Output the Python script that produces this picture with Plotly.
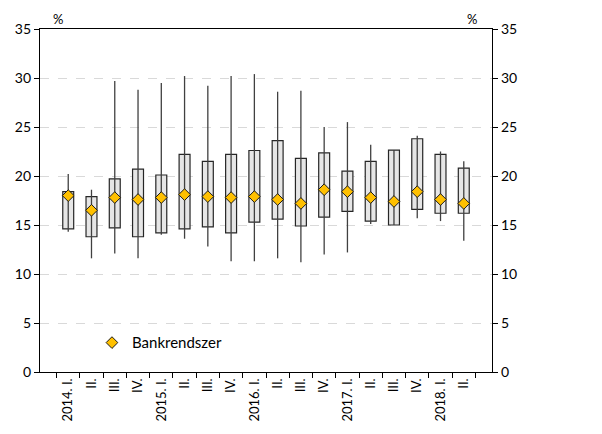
import plotly.graph_objects as go

# Quarterly distribution (%), 2014 I - 2018 II
quarters = ["2014. I.", "II.", "III.", "IV.", "2015. I.", "II.", "III.", "IV.",
            "2016. I.", "II.", "III.", "IV.", "2017. I.", "II.", "III.", "IV.",
            "2018. I.", "II."]
cats = [f"{i}|{q}" for i, q in enumerate(quarters)]

whisker_min = [14.3, 11.6, 12.1, 11.6, 14.0, 13.6, 12.8, 11.3, 11.3,
               11.6, 11.2, 12.0, 12.2, 15.1, 15.0, 15.7, 15.4, 13.4]
whisker_max = [20.2, 18.6, 29.7, 28.8, 29.5, 30.2, 29.2, 30.2, 30.4,
               28.6, 28.7, 25.0, 25.5, 23.2, 22.65, 24.1, 22.5, 21.5]
box_low = [14.6, 13.8, 14.7, 13.8, 14.2, 14.6, 14.8, 14.2, 15.3,
           15.6, 14.9, 15.8, 16.4, 15.4, 15.0, 16.6, 16.2, 16.2]
box_high = [18.4, 17.9, 19.7, 20.7, 20.1, 22.2, 21.5, 22.2, 22.6,
            23.6, 21.8, 22.35, 20.5, 21.5, 22.65, 23.8, 22.2, 20.8]
bankrendszer = [18.0, 16.5, 17.8, 17.6, 17.8, 18.1, 17.9, 17.8, 17.9,
                17.6, 17.2, 18.6, 18.4, 17.8, 17.4, 18.4, 17.6, 17.2]

FONT = "Lato"

# whiskers as one broken line
wx, wy = [], []
for c, lo, hi in zip(cats, whisker_min, whisker_max):
    wx += [c, c, None]
    wy += [lo, hi, None]

fig = go.Figure()
fig.add_trace(go.Scatter(x=wx, y=wy, mode="lines", line=dict(color="#404040", width=1.3),
                         showlegend=False, hoverinfo="skip"))
fig.add_trace(go.Bar(x=cats, y=[h - l for h, l in zip(box_high, box_low)], base=box_low,
                     width=0.47, marker=dict(color="#e6e6e6", line=dict(color="#262626", width=1.2)),
                     showlegend=False))
fig.add_trace(go.Scatter(x=cats, y=bankrendszer, mode="markers", name="Bankrendszer",
                         marker=dict(symbol="diamond", size=9, color="#ffc000",
                                     line=dict(color="#1a1a1a", width=1))))
# invisible trace to carry the right axis
fig.add_trace(go.Scatter(x=[cats[0]], y=[0], yaxis="y2", mode="markers",
                         marker=dict(opacity=0), showlegend=False, hoverinfo="skip"))

# page body adds ~8px offset, so the figure is a bit smaller than the window
fig.update_layout(
    width=594, height=426,
    margin=dict(l=32, r=110, t=21, b=62),
    plot_bgcolor="white", paper_bgcolor="white",
    font=dict(family=FONT, size=14, color="#000"),
    barmode="overlay",
    xaxis=dict(type="category", categoryorder="array", categoryarray=cats,
               tickvals=cats, ticktext=quarters, tickangle=-90,
               tickson="boundaries", ticks="outside", ticklen=5, tickcolor="#000",
               showline=True, linecolor="#000", linewidth=1.3, mirror=True,
               showgrid=False, tickfont=dict(size=13), automargin=False),
    yaxis=dict(range=[0, 35], dtick=5, ticks="outside", ticklen=5, tickcolor="#000",
               showline=True, linecolor="#000", linewidth=1.3,
               showgrid=True, gridcolor="#d9d9d9", griddash="dash", gridwidth=1,
               zeroline=False, automargin=False),
    yaxis2=dict(range=[0, 35], dtick=5, overlaying="y", side="right",
                ticks="outside", ticklen=5, tickcolor="#000",
                showline=True, linecolor="#000", linewidth=1.3,
                showgrid=False, zeroline=False, automargin=False),
    legend=dict(x=0.115, y=0.085, xanchor="left", yanchor="middle",
                bgcolor="rgba(0,0,0,0)", font=dict(size=15), itemwidth=30),
    annotations=[
        dict(text="%", x=0.04, y=1.0, xref="paper", yref="paper", xanchor="center",
             yanchor="bottom", showarrow=False, font=dict(size=13)),
        dict(text="%", x=0.955, y=1.0, xref="paper", yref="paper", xanchor="center",
             yanchor="bottom", showarrow=False, font=dict(size=13)),
    ],
)

fig.write_html("out.html")
